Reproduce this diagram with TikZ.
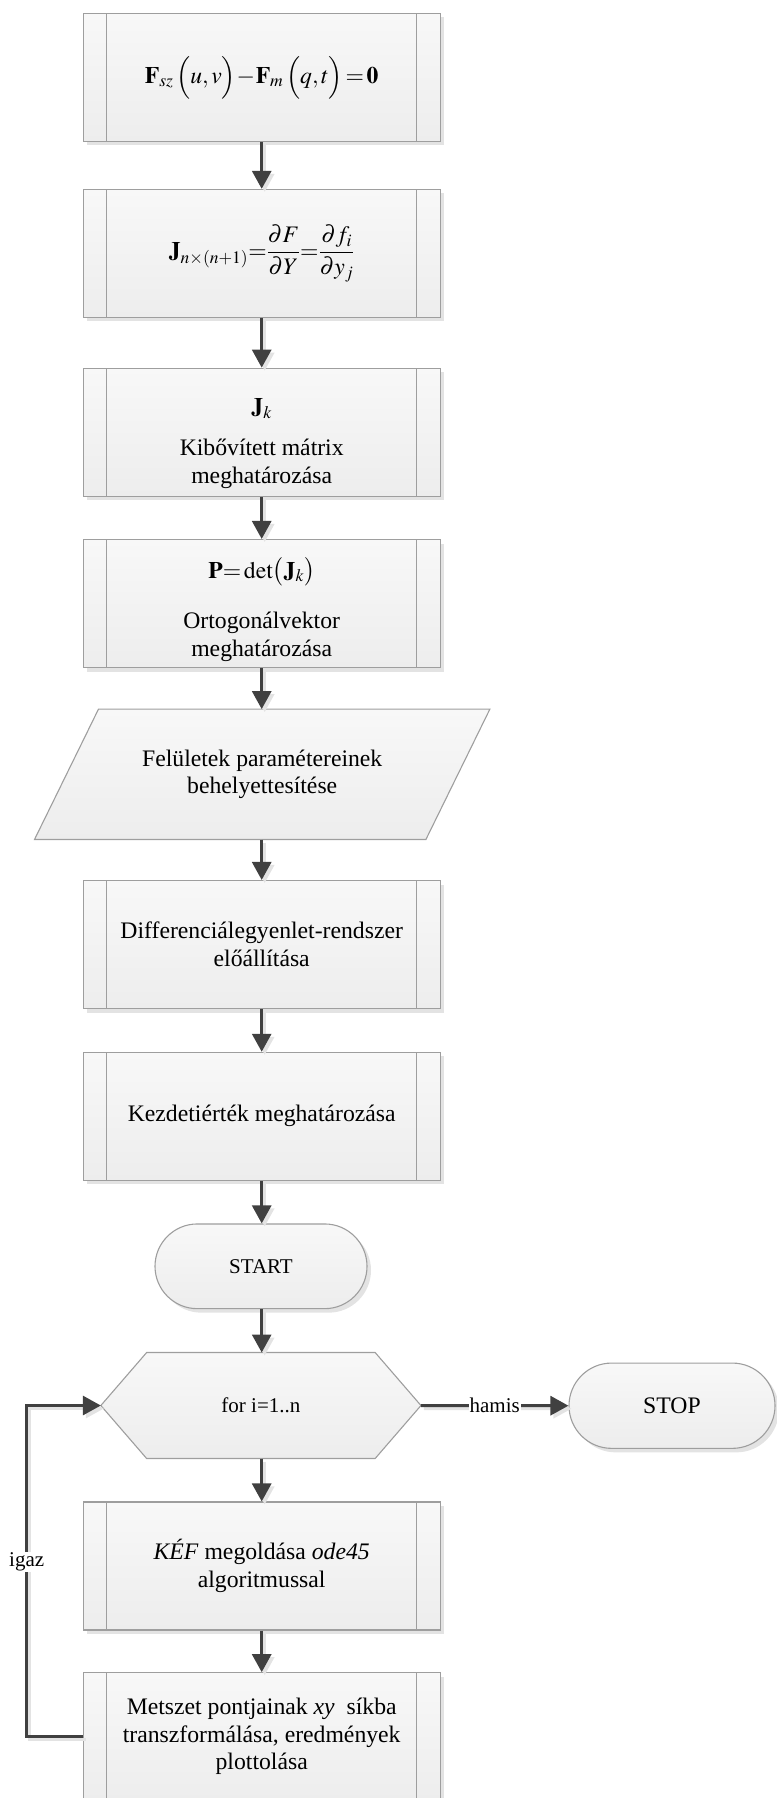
\documentclass[tikz,border=0pt]{standalone}
\usepackage{mathptmx}
\usepackage{amsmath}
\usepackage{fontspec}
\setmainfont{Liberation Serif}
\usetikzlibrary{arrows.meta,shadows,backgrounds,calc,shapes.misc}
\definecolor{edgec}{HTML}{9E9E9E}
\definecolor{arrc}{HTML}{404040}
\definecolor{shc}{HTML}{E3E3E3}
\definecolor{fillt}{HTML}{F8F8F8}
\definecolor{fillb}{HTML}{EDEDED}
\newcommand\mainsz{\fontsize{23.7}{27.5}\selectfont}
\newcommand\smallsz{\fontsize{21}{24}\selectfont}
\tikzset{
  base/.style={draw=edgec, line width=1.1pt, top color=fillt, bottom color=fillb,
    align=center, font=\mainsz, inner sep=0pt, text=black},
  procbox/.style={base, rectangle, minimum width=356.7pt, minimum height=128pt,
    drop shadow={shadow xshift=4pt, shadow yshift=-4pt, fill=shc, opacity=1},
    path picture={\draw[draw=edgec, line width=1.1pt]
      ([xshift=23.4pt]path picture bounding box.north west) -- ([xshift=23.4pt]path picture bounding box.south west)
      ([xshift=-23.4pt]path picture bounding box.north east) -- ([xshift=-23.4pt]path picture bounding box.south east);}},
  termbox/.style={base, rounded rectangle,
    drop shadow={shadow xshift=4pt, shadow yshift=-4pt, fill=shc, opacity=1}},
  ghost/.style={rectangle, draw=none, fill=none, align=center, inner sep=0pt, font=\mainsz, text=black},
  shapefill/.style={draw=edgec, line width=1.1pt, top color=fillt, bottom color=fillb},
  shapeshadow/.style={fill=shc, draw=none},
  flow/.style={draw=arrc, line width=3pt, -{Triangle[width=19pt,length=18pt]},
    preaction={draw=shc, line width=3pt, -{Triangle[width=19pt,length=18pt]}, transform canvas={shift={(3pt,-3pt)}}}},
  lbl/.style={fill=white, inner sep=1pt, font=\smallsz, text=black}
}
\begin{document}
\begin{tikzpicture}[x=1pt,y=1pt]
\useasboundingbox (0,0) rectangle (776,-1798);

\node[procbox] (b1) at (261.7,-77.5) {$\mathbf{F}_{sz}\,\Bigl(u,v\Bigr)\!-\!\mathbf{F}_{m}\,\Bigl(q,t\Bigr)\!=\!\mathbf{0}$};
\node[procbox] (b2) at (261.7,-253.4) {$\mathbf{J}_{n\times(n+1)}{=}\dfrac{\partial F}{\partial Y}{=}\dfrac{\partial f_i}{\partial y_j}$};
\node[procbox] (b3) at (261.7,-432.2) {};
\node[ghost] (b3t) at ([yshift=-11pt]b3.center) {$\mathbf{J}_k$\\[14pt]Kibővített mátrix\\meghatározása};
\node[procbox] (b4) at (261.7,-603.5) {};
\node[ghost] (b4t) at ([yshift=-6pt]b4.center) {$\mathbf{P}{=}\det\bigl(\mathbf{J}_k\bigr)$\\[23pt]Ortogonálvektor\\meghatározása};

\node[ghost, minimum width=391pt, minimum height=130pt] (para) at (262.2,-774.3) {Felületek paramétereinek\\behelyettesítése};

\node[procbox] (b6) at (261.7,-944.5) {Differenciálegyenlet-rendszer\\előállítása};
\node[procbox] (b7) at (261.7,-1116.3) {Kezdetiérték meghatározása};
\node[termbox, minimum width=212pt, minimum height=84.7pt, font=\smallsz] (start) at (261,-1266.3) {START};

\node[ghost, minimum width=319.7pt, minimum height=105.6pt, font=\smallsz] (loop) at (260.9,-1405.5) {for i=1..n};

\node[termbox, minimum width=206pt, minimum height=85.3pt] (stop) at (672,-1405.7) {STOP};
\node[procbox] (kef) at (261.7,-1566) {\textit{KÉF} megoldása \textit{ode45}\\algoritmussal};
\node[procbox] (last) at (261.7,-1736.7) {Metszet pontjainak \textit{xy}\ \ síkba\\transzformálása, eredmények\\plottolása};

\begin{pgfonlayer}{background}
  \path[shapeshadow, shift={(4pt,-4pt)}]
    ($(para.north west)+(32,0)$) -- ($(para.north east)+(32,0)$) --
    ($(para.south east)+(-32,0)$) -- ($(para.south west)+(-32,0)$) -- cycle;
  \path[shapefill]
    ($(para.north west)+(32,0)$) -- ($(para.north east)+(32,0)$) --
    ($(para.south east)+(-32,0)$) -- ($(para.south west)+(-32,0)$) -- cycle;
  \path[shapeshadow, shift={(4pt,-4pt)}]
    (loop.west) -- ($(loop.north west)+(45.8,0)$) -- ($(loop.north east)+(-45.8,0)$) --
    (loop.east) -- ($(loop.south east)+(-45.8,0)$) -- ($(loop.south west)+(45.8,0)$) -- cycle;
  \path[shapefill]
    (loop.west) -- ($(loop.north west)+(45.8,0)$) -- ($(loop.north east)+(-45.8,0)$) --
    (loop.east) -- ($(loop.south east)+(-45.8,0)$) -- ($(loop.south west)+(45.8,0)$) -- cycle;
\end{pgfonlayer}

\draw[flow] (b1.south) -- (b1.south |- b2.north);
\draw[flow] (b2.south) -- (b2.south |- b3.north);
\draw[flow] (b3.south) -- (b3.south |- b4.north);
\draw[flow] (b4.south) -- (b4.south |- para.north);
\draw[flow] (b4.south |- para.south) -- (b4.south |- b6.north);
\draw[flow] (b6.south) -- (b6.south |- b7.north);
\draw[flow] (b7.south) -- (b7.south |- start.north);
\draw[flow] (b7.south |- start.south) -- (b7.south |- loop.north);
\draw[flow] (b7.south |- loop.south) -- (b7.south |- kef.north);
\draw[flow] (kef.south) -- (kef.south |- last.north);

\coordinate (lp) at (26.7,-1736.7);
\draw[flow] (last.west) -- (lp) |- (loop.west);
\node[lbl] (igaz) at (26.7,-1561.7) {igaz};

\draw[flow] (loop.east) -- (stop.west);
\node[lbl] (hamis) at ($(loop.east)!0.5!(stop.west)$) {hamis};
\end{tikzpicture}
\end{document}
